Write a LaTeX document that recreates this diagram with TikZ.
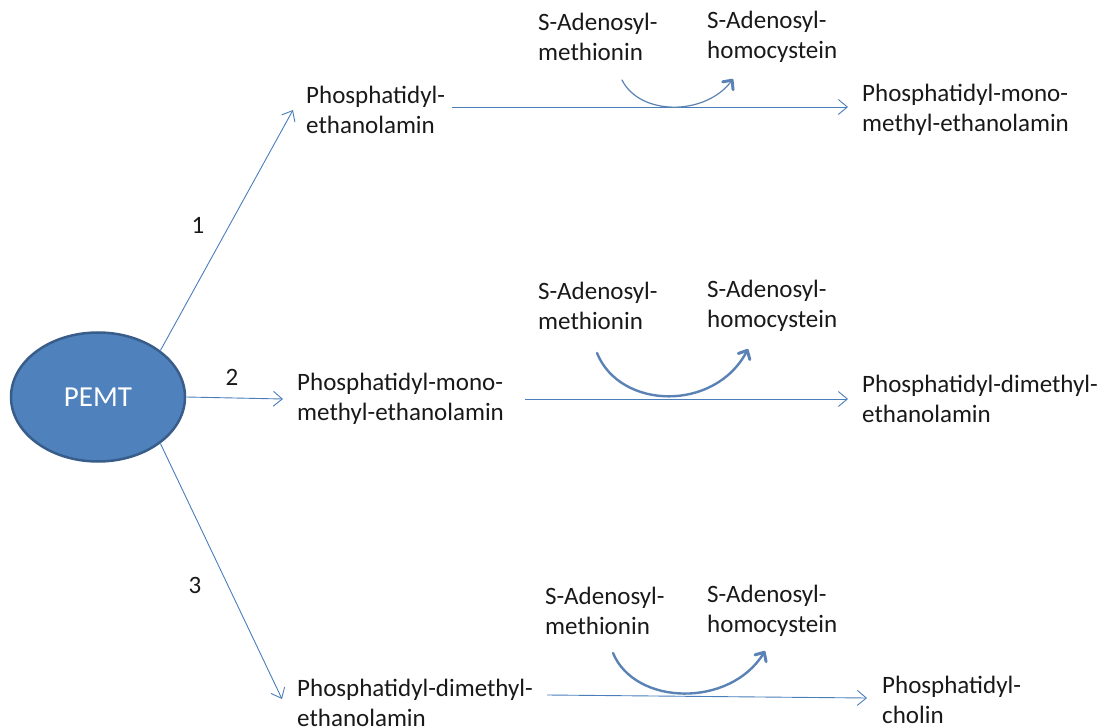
\documentclass[tikz,border=0pt]{standalone}
\usepackage{fontspec}
\setmainfont{Carlito}
\usetikzlibrary{arrows.meta,shapes.geometric}
\definecolor{pemtblue}{HTML}{4F81BD}
\definecolor{pemtedge}{HTML}{385D8A}
\definecolor{lineblue}{HTML}{4A7EBB}
\definecolor{samblue}{HTML}{3D6CA8}
\newcommand{\rxn}[4]{\path ([shift={(#2)}]#1.east) edge ([shift={(#4)}]#3.west); }
\newcommand{\samc}[5]{\draw[samarrow,line width=#5] (#1) .. controls (#2) and (#3) .. (#4); }

\begin{document}
\begin{tikzpicture}[x=1pt,y=-1pt,thin,
    every edge/.style={draw=lineblue,line width=0.9pt,-{Straight Barb[length=9pt,width=15pt]}},
    txt/.style={anchor=west,align=left,inner sep=0pt,text=black!90,
      font=\fontsize{25}{30}\selectfont},
    num/.style={inner sep=0pt,text=black!90,font=\fontsize{25}{30}\selectfont},
    samarrow/.style={draw=samblue!85,line cap=round,
      -{Straight Barb[length=7pt,width=13pt,line width=3pt,round]}}]
  \useasboundingbox (0,0) rectangle (1101,727);
  \node[ellipse,draw=pemtedge,line width=2.5pt,fill=pemtblue,minimum width=174pt,
    minimum height=129pt,text=white,font=\fontsize{29}{34}\selectfont] (pemt) at (98,397) {PEMT};
  % substrates
  \node[txt] (pe) at (306,110) {Phosphatidyl-\\ethanolamin};
  \node[txt] (pmme) at (297,399) {Phosphatidyl-mono-\\methyl-ethanolamin};
  \node[txt] (pdme) at (297,703) {Phosphatidyl-dimethyl-\\ethanolamin};
  % products
  \node[txt] (prodA) at (862,110) {Phosphatidyl-mono-\\methyl-ethanolamin};
  \node[txt] (prodB) at (862,399) {Phosphatidyl-dimethyl-\\ethanolamin};
  \node[txt] (prodC) at (882,700) {Phosphatidyl-\\cholin};
  % methyl donors
  \node[txt] (samA) at (538,37) {S-Adenosyl-\\methionin};
  \node[txt] (sahA) at (707,37) {S-Adenosyl-\\homocystein};
  \node[txt] (samB) at (538,306) {S-Adenosyl-\\methionin};
  \node[txt] (sahB) at (707,306) {S-Adenosyl-\\homocystein};
  \node[txt] (samC) at (545,611) {S-Adenosyl-\\methionin};
  \node[txt] (sahC) at (707,611) {S-Adenosyl-\\homocystein};
  % steps
  \node[num] (n1) at (198,225) {1};
  \node[num] (n2) at (232,377) {2};
  \node[num] (n3) at (195,585) {3};

  \path (pemt.north east) edge ([xshift=-13pt]pe.west);
  \path (pemt.east) edge ([xshift=-14pt]pmme.west);
  \path (pemt.south east) edge ([shift={(-15,-4)}]pdme.west);
  \rxn{pe}{7,-3}{prodA}{-14,-3}
  \rxn{pmme}{21,0}{prodB}{-14,0}
  \rxn{pdme}{14,-8}{prodC}{-15,-2}

  \coordinate (sA) at (622,80);  \coordinate (eA) at (733,79);
  \coordinate (sB) at (597,353); \coordinate (eB) at (748,349);
  \coordinate (sC) at (613,653); \coordinate (eC) at (765,651);
  \samc{sA}{640,116}{705,116}{eA}{1.2pt}
  \samc{sB}{620,410}{715,412}{eB}{2.4pt}
  \samc{sC}{635,706}{730,708}{eC}{2.4pt}
\end{tikzpicture}
\end{document}
